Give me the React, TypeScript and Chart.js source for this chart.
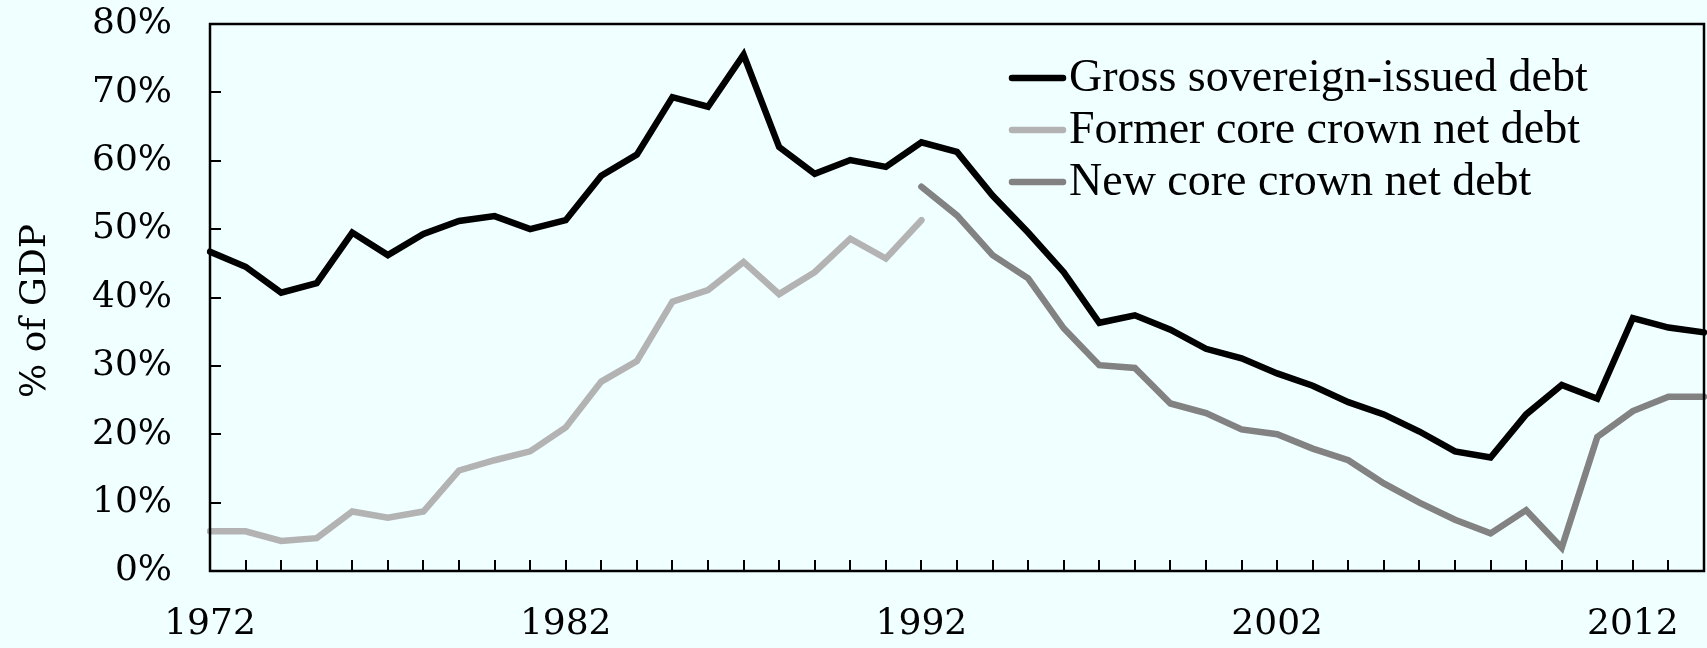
import React, { useEffect, useRef } from "react";
import { Chart, registerables } from "chart.js";

Chart.register(...registerables);

const years: number[] = [
  1972, 1973, 1974, 1975, 1976, 1977, 1978, 1979, 1980, 1981,
  1982, 1983, 1984, 1985, 1986, 1987, 1988, 1989, 1990, 1991,
  1992, 1993, 1994, 1995, 1996, 1997, 1998, 1999, 2000, 2001,
  2002, 2003, 2004, 2005, 2006, 2007, 2008, 2009, 2010, 2011,
  2012, 2013, 2014,
];

// Gross sovereign-issued debt, 1972-2014 (% of GDP)
const grossDebt: number[] = [
  46.7, 44.5, 40.7, 42.1, 49.5, 46.2, 49.3, 51.2, 51.9, 50.0,
  51.3, 57.8, 60.9, 69.3, 67.9, 75.5, 62.0, 58.1, 60.1, 59.1,
  62.7, 61.3, 54.9, 49.5, 43.7, 36.3, 37.4, 35.3, 32.5, 31.1,
  28.9, 27.1, 24.7, 22.9, 20.4, 17.5, 16.6, 22.9, 27.2, 25.2,
  37.0, 35.6, 34.9,
];

// Former core crown net debt, 1972-1992
const formerYears: number[] = [
  1972, 1973, 1974, 1975, 1976, 1977, 1978, 1979, 1980, 1981,
  1982, 1983, 1984, 1985, 1986, 1987, 1988, 1989, 1990, 1991, 1992,
];
const formerNetDebt: number[] = [
  5.8, 5.8, 4.4, 4.8, 8.7, 7.8, 8.7, 14.7, 16.2, 17.5,
  21.0, 27.7, 30.7, 39.4, 41.1, 45.2, 40.5, 43.7, 48.6, 45.7, 51.3,
];

// New core crown net debt, 1992-2014
const newYears: number[] = [
  1992, 1993, 1994, 1995, 1996, 1997, 1998, 1999, 2000, 2001,
  2002, 2003, 2004, 2005, 2006, 2007, 2008, 2009, 2010, 2011,
  2012, 2013, 2014,
];
const newNetDebt: number[] = [
  56.2, 52.0, 46.2, 42.8, 35.5, 30.1, 29.7, 24.5, 23.1, 20.7,
  20.0, 17.9, 16.2, 12.8, 10.0, 7.5, 5.5, 8.9, 3.4, 19.6,
  23.4, 25.5, 25.5,
];

const seriesLabels: string[] = [
  "Gross sovereign-issued debt",
  "Former core crown net debt",
  "New core crown net debt",
];
const seriesColors: string[] = ["#000000", "#B3B3B3", "#828282"];

const xLabelYears: number[] = [1972, 1982, 1992, 2002, 2012];
const yTicks: number[] = [0, 10, 20, 30, 40, 50, 60, 70, 80];
const yAxisTitle = "% of GDP";

const BG = "#F0FFFF";
const NUM_FONT = "DejaVu Serif";
const LEGEND_FONT = "Liberation Serif";

function alignTo(subYears: number[], values: number[]): (number | null)[] {
  return years.map((y) => {
    const i = subYears.indexOf(y);
    return i >= 0 ? values[i] : null;
  });
}

function zeroPadding(scale: any) {
  scale.paddingTop = 0;
  scale.paddingBottom = 0;
  scale.paddingLeft = 0;
  scale.paddingRight = 0;
}

export default function App() {
  const canvasRef = useRef<HTMLCanvasElement | null>(null);

  useEffect(() => {
    const canvas = canvasRef.current;
    if (!canvas) return;

    const bgPlugin = {
      id: "bg",
      beforeDraw(chart: any) {
        const ctx = chart.ctx;
        ctx.save();
        ctx.fillStyle = BG;
        ctx.fillRect(0, 0, chart.width, chart.height);
        ctx.restore();
      },
    };

    const framePlugin = {
      id: "frame",
      afterDraw(chart: any) {
        const ctx = chart.ctx;
        const { left, right, top, bottom } = chart.chartArea;
        const xs = chart.scales.x;
        const ys = chart.scales.y;
        ctx.save();
        ctx.strokeStyle = "#000";
        ctx.lineWidth = 2;
        ctx.lineCap = "butt";
        ctx.beginPath();
        years.forEach((_, i) => {
          const px = Math.round(xs.getPixelForValue(i));
          ctx.moveTo(px, bottom);
          ctx.lineTo(px, bottom - 11);
        });
        yTicks.forEach((v) => {
          const py = Math.round(ys.getPixelForValue(v));
          ctx.moveTo(left, py);
          ctx.lineTo(left + 11, py);
        });
        ctx.stroke();
        ctx.lineWidth = 2.5;
        ctx.strokeRect(left, top, right - left, bottom - top);

        // y axis title
        ctx.fillStyle = "#000";
        ctx.font = `36px "${NUM_FONT}"`;
        ctx.textAlign = "center";
        ctx.textBaseline = "middle";
        ctx.translate(36, 311);
        ctx.rotate(-Math.PI / 2);
        ctx.fillText(yAxisTitle, 0, 0);
        ctx.restore();

        // legend
        ctx.save();
        chart.data.datasets.forEach((ds: any, i: number) => {
          const cy = 78 + i * 52;
          ctx.strokeStyle = ds.borderColor;
          ctx.lineWidth = 6.5;
          ctx.lineCap = "round";
          ctx.beginPath();
          ctx.moveTo(1012, cy);
          ctx.lineTo(1063, cy);
          ctx.stroke();
          ctx.fillStyle = "#000";
          ctx.font = `46px "${LEGEND_FONT}"`;
          ctx.textAlign = "left";
          ctx.textBaseline = "middle";
          ctx.fillText(ds.label, 1069, cy + 1);
        });
        ctx.restore();
      },
    };

    const lineStyle = {
      borderWidth: 6.5,
      pointRadius: 0,
      tension: 0,
      spanGaps: false,
      borderJoinStyle: "miter" as const,
      borderCapStyle: "round" as const,
    };

    const chart = new Chart(canvas, {
      type: "line",
      data: {
        labels: years.map(String),
        datasets: [
          {
            label: seriesLabels[0],
            data: grossDebt,
            borderColor: seriesColors[0],
            backgroundColor: seriesColors[0],
            ...lineStyle,
          },
          {
            label: seriesLabels[1],
            data: alignTo(formerYears, formerNetDebt),
            borderColor: seriesColors[1],
            backgroundColor: seriesColors[1],
            ...lineStyle,
          },
          {
            label: seriesLabels[2],
            data: alignTo(newYears, newNetDebt),
            borderColor: seriesColors[2],
            backgroundColor: seriesColors[2],
            ...lineStyle,
          },
        ],
      },
      options: {
        animation: false,
        responsive: true,
        maintainAspectRatio: false,
        events: [],
        layout: { padding: { top: 24, right: 3, bottom: 0, left: 0 } },
        plugins: {
          legend: { display: false },
          title: { display: false },
          tooltip: { enabled: false },
        },
        scales: {
          x: {
            type: "category",
            offset: false,
            border: { display: false },
            grid: { display: false, drawTicks: false },
            ticks: {
              autoSkip: false,
              maxRotation: 0,
              minRotation: 0,
              padding: 32,
              color: "#000",
              font: { family: NUM_FONT, size: 36 },
              callback: (_v: any, i: number) =>
                xLabelYears.includes(years[i]) ? String(years[i]) : "",
            },
            afterFit: (scale: any) => {
              scale.height = 77;
              zeroPadding(scale);
            },
          },
          y: {
            min: 0,
            max: 80,
            border: { display: false },
            grid: { display: false, drawTicks: false },
            afterBuildTicks: (scale: any) => {
              scale.ticks = yTicks.map((v) => ({ value: v }));
            },
            ticks: {
              padding: 38,
              color: "#000",
              font: { family: NUM_FONT, size: 36 },
              callback: (v: any) => `${v}%`,
            },
            afterFit: (scale: any) => {
              scale.width = 210;
              zeroPadding(scale);
            },
          },
        },
      },
      plugins: [bgPlugin, framePlugin],
    });

    return () => chart.destroy();
  }, []);

  return (
    <div
      style={{
        position: "fixed",
        left: 0,
        top: 0,
        width: "1707px",
        height: "648px",
        background: BG,
      }}
    >
      <canvas ref={canvasRef} />
    </div>
  );
}
